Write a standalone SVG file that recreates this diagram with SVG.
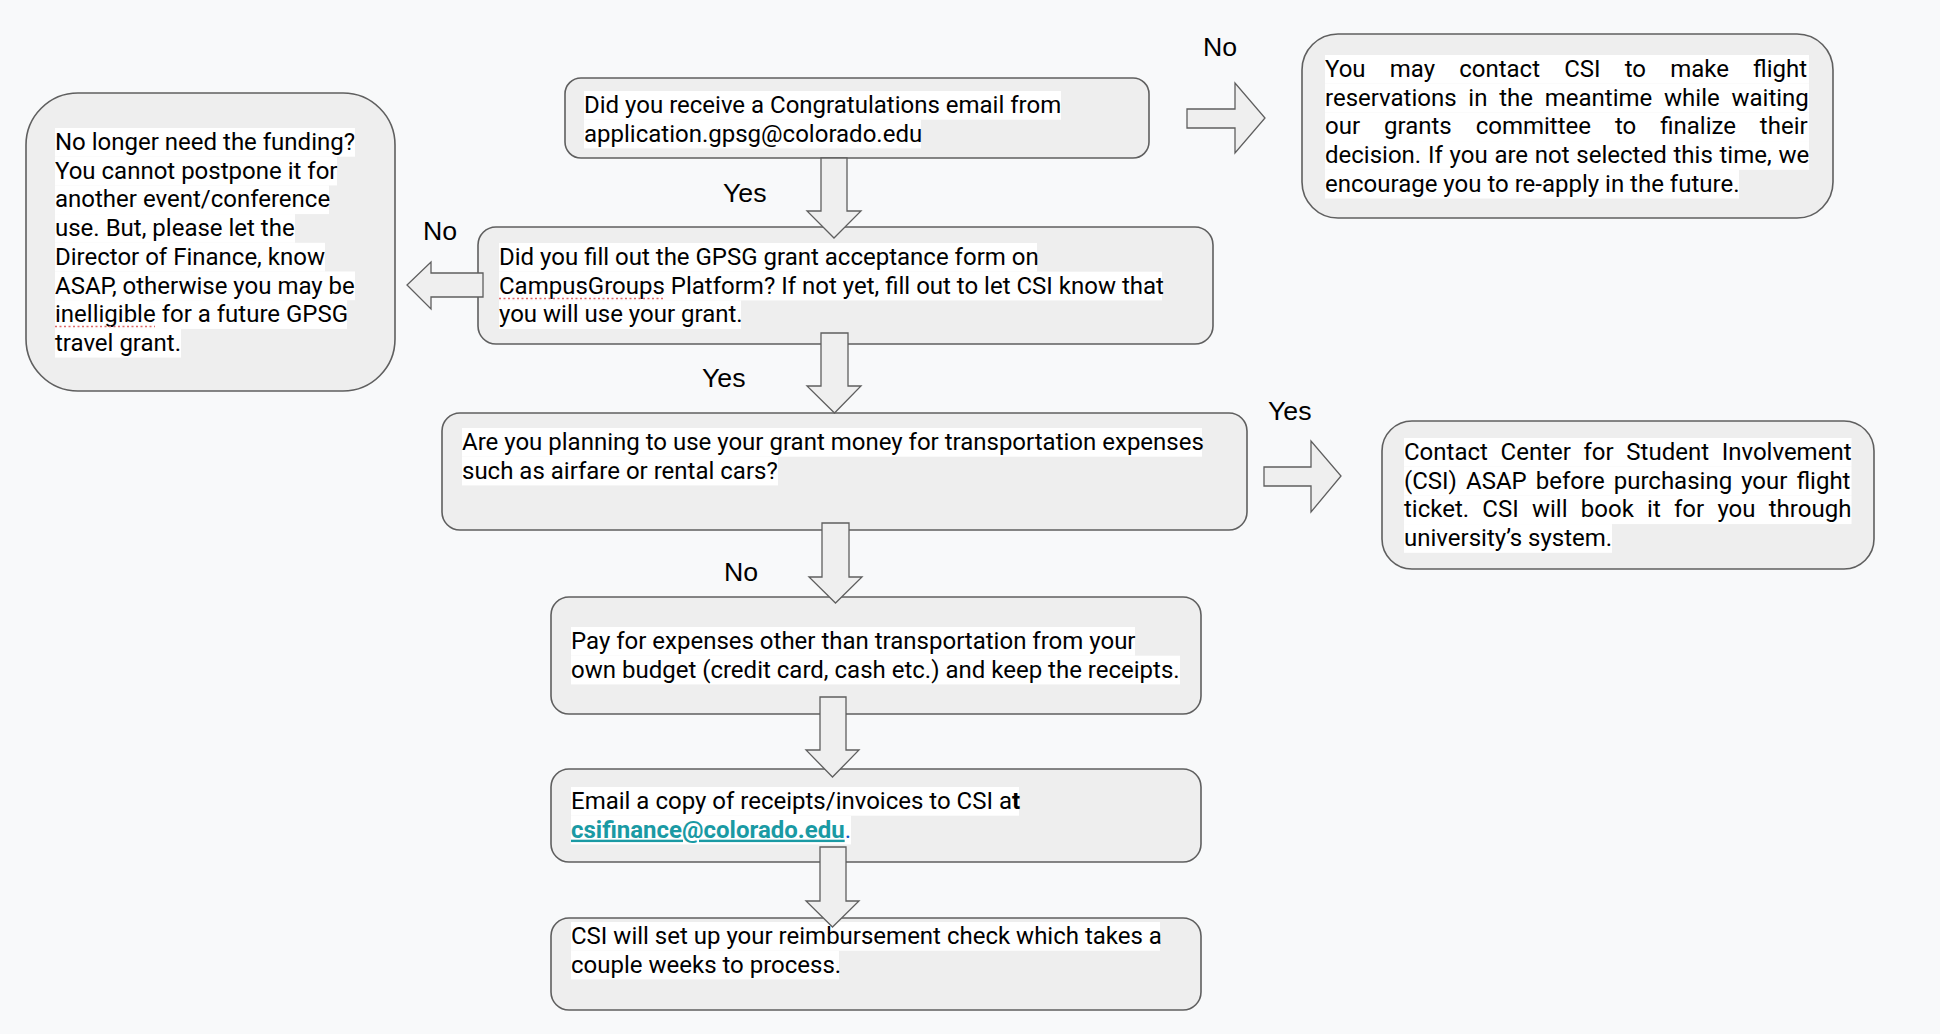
<svg xmlns="http://www.w3.org/2000/svg" width="1940" height="1034" viewBox="0 0 1940 1034">
<style>
.bg{fill:#f8f9fa}
.box{fill:#eeeeee;stroke:#5f5f5f;stroke-width:1.6}
.arrow{fill:#efefef;stroke:#5f5f5f;stroke-width:1.3;stroke-linejoin:miter}
.hl{fill:#ffffff}
.t{font-family:Roboto,"Liberation Sans",sans-serif;font-size:24px;fill:#000}
.lbl{font-family:"Liberation Sans",Arial,sans-serif;font-size:26.7px;fill:#000}
.spell{stroke:#e06666;stroke-width:1.3;stroke-dasharray:2 2.5;fill:none}
.link{fill:#1a9aa4;font-weight:bold;text-decoration:underline}
</style>
<rect class="bg" x="0" y="0" width="1940" height="1034"/>

<g id="node-received-email">
<rect class="box" x="565" y="78" width="584" height="80" rx="16"/>
<rect class="hl" x="584" y="91" width="477" height="28.7"/>
<rect class="hl" x="584" y="119.7" width="337" height="28.7"/>
<text class="t" x="584" y="113">Did you receive a Congratulations email from</text>
<text class="t" x="584" y="141.7">application.gpsg@colorado.edu</text>
</g>

<g id="node-contact-csi-meantime">
<rect class="box" x="1302" y="34" width="531" height="184" rx="36"/>
<rect class="hl" x="1325" y="55" width="484" height="28.7"/>
<rect class="hl" x="1325" y="83.7" width="484" height="28.7"/>
<rect class="hl" x="1325" y="112.4" width="484" height="28.7"/>
<rect class="hl" x="1325" y="141.1" width="484" height="28.7"/>
<rect class="hl" x="1325" y="169.8" width="414" height="28.7"/>
<text class="t" x="1325" y="77" word-spacing="18.2">You may contact CSI to make flight</text>
<text class="t" x="1325" y="105.7" word-spacing="5.8">reservations in the meantime while waiting</text>
<text class="t" x="1325" y="134.4" word-spacing="18">our grants committee to finalize their</text>
<text class="t" x="1325" y="163.1" word-spacing="0.8">decision. If you are not selected this time, we</text>
<text class="t" x="1325" y="191.8">encourage you to re-apply in the future.</text>
</g>

<g id="node-acceptance-form">
<rect class="box" x="478" y="227" width="735" height="117" rx="18"/>
<rect class="hl" x="499" y="243" width="538" height="28.7"/>
<rect class="hl" x="499" y="271.7" width="663" height="28.7"/>
<rect class="hl" x="499" y="300.4" width="242" height="28.7"/>
<text class="t" x="499" y="265">Did you fill out the GPSG grant acceptance form on</text>
<text class="t" x="499" y="293.7">CampusGroups Platform? If not yet, fill out to let CSI know that</text>
<text class="t" x="499" y="322.4">you will use your grant.</text>
<line class="spell" x1="499" y1="298.5" x2="664" y2="298.5"/>
</g>

<g id="node-no-longer-need">
<rect class="box" x="26" y="93" width="369" height="298" rx="52"/>
<rect class="hl" x="55" y="128" width="300" height="28.7"/>
<rect class="hl" x="55" y="156.7" width="282" height="28.7"/>
<rect class="hl" x="55" y="185.4" width="274" height="28.7"/>
<rect class="hl" x="55" y="214.1" width="240" height="28.7"/>
<rect class="hl" x="55" y="242.8" width="270" height="28.7"/>
<rect class="hl" x="55" y="271.5" width="300" height="28.7"/>
<rect class="hl" x="55" y="300.2" width="292" height="28.7"/>
<rect class="hl" x="55" y="328.9" width="126" height="28.7"/>
<text class="t" x="55" y="150">No longer need the funding?</text>
<text class="t" x="55" y="178.7">You cannot postpone it for</text>
<text class="t" x="55" y="207.4">another event/conference</text>
<text class="t" x="55" y="236.1">use. But, please let the</text>
<text class="t" x="55" y="264.8">Director of Finance, know</text>
<text class="t" x="55" y="293.5">ASAP, otherwise you may be</text>
<text class="t" x="55" y="322.2">inelligible for a future GPSG</text>
<text class="t" x="55" y="350.9">travel grant.</text>
<line class="spell" x1="55" y1="326.5" x2="155" y2="326.5"/>
</g>

<g id="node-transportation">
<rect class="box" x="442" y="413" width="805" height="117" rx="18"/>
<rect class="hl" x="462" y="428" width="740" height="28.7"/>
<rect class="hl" x="462" y="456.7" width="316" height="28.7"/>
<text class="t" x="462" y="450">Are you planning to use your grant money for transportation expenses</text>
<text class="t" x="462" y="478.7">such as airfare or rental cars?</text>
</g>

<g id="node-contact-center">
<rect class="box" x="1382" y="421" width="492" height="148" rx="30"/>
<rect class="hl" x="1404" y="438" width="447.5" height="28.7"/>
<rect class="hl" x="1404" y="466.7" width="447.5" height="28.7"/>
<rect class="hl" x="1404" y="495.4" width="447.5" height="28.7"/>
<rect class="hl" x="1404" y="524.1" width="208" height="28.7"/>
<text class="t" x="1404" y="460" word-spacing="6.7">Contact Center for Student Involvement</text>
<text class="t" x="1404" y="488.7" word-spacing="3.1">(CSI) ASAP before purchasing your flight</text>
<text class="t" x="1404" y="517.4" word-spacing="7.3">ticket. CSI will book it for you through</text>
<text class="t" x="1404" y="546.1">university’s system.</text>
</g>

<g id="node-pay-expenses">
<rect class="box" x="551" y="597" width="650" height="117" rx="18"/>
<rect class="hl" x="571" y="627" width="564" height="28.7"/>
<rect class="hl" x="571" y="655.7" width="609" height="28.7"/>
<text class="t" x="571" y="649">Pay for expenses other than transportation from your</text>
<text class="t" x="571" y="677.7">own budget (credit card, cash etc.) and keep the receipts.</text>
</g>

<g id="node-email-receipts">
<rect class="box" x="551" y="769" width="650" height="93" rx="18"/>
<rect class="hl" x="571" y="787" width="448" height="28.7"/>
<rect class="hl" x="571" y="815.7" width="280" height="28.7"/>
<text class="t" x="571" y="809">Email a copy of receipts/invoices to CSI a<tspan font-weight="bold">t</tspan></text>
<text class="t" x="571" y="837.7"><tspan class="link">csifinance@colorado.edu</tspan><tspan fill="#1155cc">.</tspan></text>
</g>

<g id="node-reimbursement">
<rect class="box" x="551" y="918" width="650" height="92" rx="18"/>
<rect class="hl" x="571" y="922" width="589" height="28.7"/>
<rect class="hl" x="571" y="950.7" width="268" height="28.7"/>
<text class="t" x="571" y="944">CSI will set up your reimbursement check which takes a</text>
<text class="t" x="571" y="972.7">couple weeks to process.</text>
</g>

<g id="connectors">
<polygon class="arrow" points="821,158 847,158 847,211 861,211 834,238 807,211 821,211"/>
<polygon class="arrow" points="1187,109 1235,109 1235,83 1265,118 1235,153 1235,128 1187,128"/>
<polygon class="arrow" points="483,273 431,273 431,262 407,285 431,309 431,297 483,297"/>
<polygon class="arrow" points="821,333 848,333 848,386 861,386 834.5,413 807,386 821,386"/>
<polygon class="arrow" points="1264,467 1311,467 1311,441 1341,476 1311,512 1311,486 1264,486"/>
<polygon class="arrow" points="822,523 849,523 849,577 862,577 835.5,603 809,577 822,577"/>
<polygon class="arrow" points="820,697 846,697 846,750 859,750 832.5,777 806,750 820,750"/>
<polygon class="arrow" points="820,847 846,847 846,901 859,901 832.5,927 806,901 820,901"/>
<text class="lbl" x="1203" y="56">No</text>
<text class="lbl" x="723" y="202">Yes</text>
<text class="lbl" x="423" y="240">No</text>
<text class="lbl" x="702" y="387">Yes</text>
<text class="lbl" x="1268" y="420">Yes</text>
<text class="lbl" x="724" y="581">No</text>
</g>
</svg>
